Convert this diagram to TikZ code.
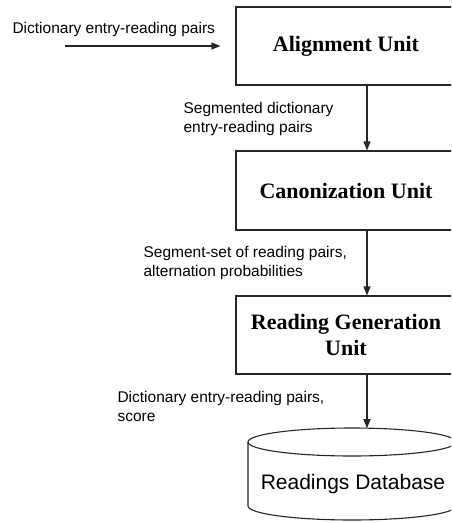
\documentclass[tikz,border=0pt]{standalone}
\usepackage{fontspec}
\setmainfont{Liberation Serif}
\newfontfamily\arialf{Liberation Sans}
\usetikzlibrary{arrows.meta}
\begin{document}
\begin{tikzpicture}[x=1pt,y=-1pt,
  line width=1.1pt,
  unitbox/.style={draw=black!85, minimum width=220pt, minimum height=78pt, inner sep=0pt,
    align=center, font=\fontsize{22}{26}\selectfont\bfseries},
  lbl/.style={anchor=base west, inner sep=0pt, align=left, font=\arialf\fontsize{15.5}{19.5}\selectfont},
  arr/.style={draw=black!85, -{Triangle[length=9pt,width=7pt]}}]
\clip (0,0) rectangle (451,523);
\fill[white] (0,0) rectangle (451,523);

\node[unitbox] (align) at (346,46) {Alignment Unit};
\node[unitbox, minimum height=79pt] (canon) at (346,190.5) {Canonization Unit};
\node[unitbox] (rg) at (346,335) {Reading Generation\\Unit};

% database cylinder
\draw[black!85] (248,442) -- (248,506) arc[start angle=180, end angle=0, x radius=104, y radius=14]
  -- (456,442);
\draw[black!85] (352,442) ellipse[x radius=104, y radius=14];
\node[inner sep=0pt, minimum width=200pt, minimum height=40pt, font=\arialf\fontsize{21}{25}\selectfont] (db) at (353,484) {Readings Database};
\coordinate (dbtop) at (367,428.2);
\coordinate (in) at (65,46);

% labels (base = baseline of last line)
\node[lbl] (l1) at (12,33.3) {Dictionary entry-reading pairs};
\node[lbl] (l2) at (183,132.7) {Segmented dictionary\\entry-reading pairs};
\node[lbl] (l3) at (143,276.5) {Segment-set of reading pairs,\\alternation probabilities};
\node[lbl] (l4) at (117,421.7) {Dictionary entry-reading pairs,\\score};

% connectors
\draw[arr, shorten >=15pt] (in) -- (align.west |- in);
\draw[arr] ([xshift=21pt]align.south) -- ([xshift=21pt]canon.north);
\draw[arr] ([xshift=21pt]canon.south) -- ([xshift=21pt]rg.north);
\draw[arr] ([xshift=21pt]rg.south) -- (dbtop);
\end{tikzpicture}
\end{document}
